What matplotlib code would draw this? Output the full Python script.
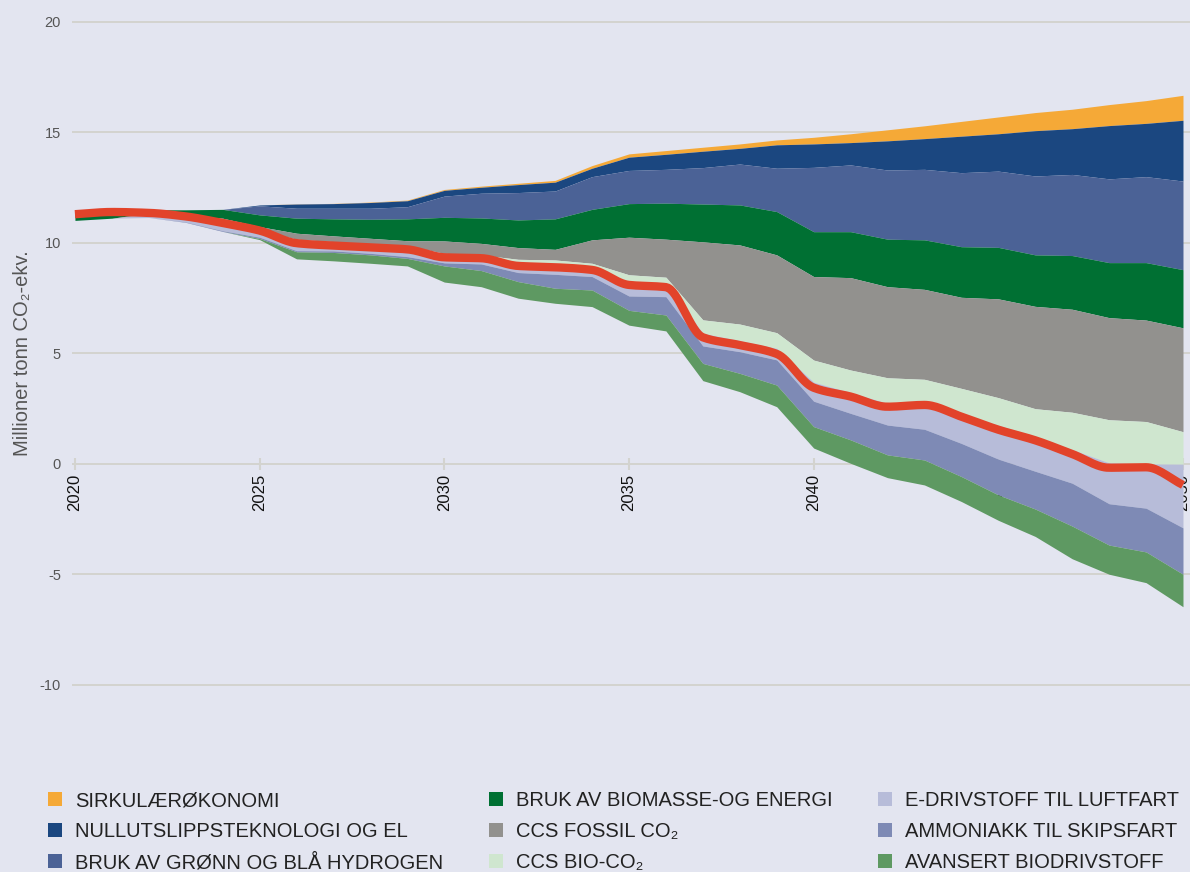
import numpy as np
import matplotlib
matplotlib.use("Agg")
import matplotlib.pyplot as plt
from matplotlib.patches import Patch

plt.rcParams['font.family'] = ['Liberation Sans', 'DejaVu Sans']
plt.rcParams['axes.unicode_minus'] = False

aar = list(range(2020, 2051))

# øvre kant av hvert felt (kumulativt, nedenfra og opp), mill. tonn CO2-ekv.
bunn = [11.02, 11.12, 11.15, 10.93, 10.52, 10.15, 9.28, 9.19, 9.08, 8.96, 8.23, 8.02, 7.50, 7.27, 7.12, 6.28,
        6.02, 3.77, 3.27, 2.59, 0.72, 0.03, -0.62, -0.95, -1.70, -2.55, -3.28, -4.29, -4.99, -5.37, -6.46]
avansert_bio = [11.02, 11.12, 11.15, 10.93, 10.52, 10.20, 9.60, 9.57, 9.46, 9.30, 8.96, 8.75, 8.25, 7.95, 7.87, 6.95,
                6.74, 4.55, 4.10, 3.57, 1.69, 1.09, 0.41, 0.18, -0.57, -1.40, -2.04, -2.81, -3.67, -3.98, -4.99]
ammoniakk = [11.02, 11.12, 11.15, 10.95, 10.55, 10.26, 9.65, 9.64, 9.53, 9.38, 9.10, 9.05, 8.66, 8.58, 8.48, 7.60,
             7.57, 5.34, 5.08, 4.71, 2.84, 2.29, 1.76, 1.57, 0.93, 0.22, -0.33, -0.87, -1.80, -2.00, -2.89]
e_drivstoff = [11.02, 11.12, 11.30, 11.20, 10.95, 10.60, 10.17, 10.06, 9.95, 9.88, 9.53, 9.46, 9.10, 9.05, 8.95, 8.20,
               8.20, 5.91, 5.58, 5.23, 3.70, 3.23, 2.74, 2.77, 2.29, 1.75, 1.25, 0.65, 0.05, 0.00, -0.01]
ccs_bio = [11.02, 11.12, 11.30, 11.20, 10.95, 10.60, 10.17, 10.06, 9.95, 9.88, 9.53, 9.46, 9.26, 9.23, 9.08, 8.56,
           8.45, 6.52, 6.33, 5.94, 4.70, 4.25, 3.90, 3.83, 3.42, 3.00, 2.50, 2.34, 2.00, 1.92, 1.46]
ccs_fossil = [11.02, 11.12, 11.35, 11.25, 11.12, 10.74, 10.44, 10.32, 10.21, 10.10, 10.09, 9.98, 9.79, 9.71, 10.14, 10.26,
              10.17, 10.05, 9.91, 9.46, 8.48, 8.43, 8.02, 7.90, 7.54, 7.47, 7.13, 7.00, 6.62, 6.51, 6.16]
biomasse = [11.42, 11.48, 11.50, 11.50, 11.52, 11.27, 11.12, 11.09, 11.07, 11.09, 11.16, 11.13, 11.04, 11.09, 11.52, 11.78,
            11.80, 11.76, 11.72, 11.42, 10.51, 10.51, 10.17, 10.14, 9.83, 9.80, 9.46, 9.43, 9.11, 9.11, 8.79]
hydrogen = [11.42, 11.48, 11.50, 11.50, 11.52, 11.68, 11.57, 11.57, 11.57, 11.64, 12.12, 12.25, 12.28, 12.35, 13.00, 13.28,
            13.33, 13.41, 13.57, 13.38, 13.42, 13.53, 13.30, 13.33, 13.18, 13.25, 13.03, 13.10, 12.90, 13.00, 12.80]
nullutslipp = [11.42, 11.48, 11.50, 11.50, 11.52, 11.72, 11.76, 11.78, 11.83, 11.91, 12.38, 12.52, 12.64, 12.75, 13.38, 13.88,
               14.01, 14.15, 14.28, 14.44, 14.48, 14.54, 14.62, 14.72, 14.83, 14.94, 15.08, 15.17, 15.31, 15.41, 15.55]
sirkular = [11.42, 11.48, 11.50, 11.50, 11.52, 11.72, 11.77, 11.79, 11.85, 11.94, 12.42, 12.57, 12.70, 12.83, 13.50, 14.03,
            14.18, 14.33, 14.48, 14.66, 14.78, 14.94, 15.12, 15.30, 15.50, 15.70, 15.90, 16.05, 16.26, 16.44, 16.68]
netto = [11.30, 11.40, 11.36, 11.20, 10.90, 10.56, 9.99, 9.88, 9.80, 9.71, 9.35, 9.31, 8.96, 8.90, 8.78, 8.10,
         8.00, 5.73, 5.38, 4.98, 3.45, 3.05, 2.59, 2.67, 2.14, 1.55, 1.07, 0.45, -0.17, -0.15, -0.95]

BG = '#e3e5f0'
GRID = '#d3d3cf'


def monotone(x, y, n=16):
    # monoton kubisk kurve gjennom punktene (bare for tegning av linjen)
    x = np.asarray(x, float)
    y = np.asarray(y, float)
    h = np.diff(x)
    d = np.diff(y) / h
    m = np.zeros_like(y)
    m[0], m[-1] = d[0], d[-1]
    for i in range(1, len(y) - 1):
        if d[i - 1] * d[i] > 0:
            m[i] = 2 / (1 / d[i - 1] + 1 / d[i])
    xs, ys = [], []
    t = np.linspace(0, 1, n, endpoint=False)
    for i in range(len(h)):
        h00 = 2 * t**3 - 3 * t**2 + 1
        h10 = t**3 - 2 * t**2 + t
        h01 = -2 * t**3 + 3 * t**2
        h11 = t**3 - t**2
        xs.append(x[i] + t * h[i])
        ys.append(h00 * y[i] + h10 * h[i] * m[i] + h01 * y[i + 1] + h11 * h[i] * m[i + 1])
    xs.append([x[-1]])
    ys.append([y[-1]])
    return np.concatenate(xs), np.concatenate(ys)


# (nedre kant, øvre kant, farge, navn) i legend-rekkefølge
felt = [
    (nullutslipp, sirkular, '#f5a937', 'SIRKULÆRØKONOMI'),
    (hydrogen, nullutslipp, '#1b4780', 'NULLUTSLIPPSTEKNOLOGI OG EL'),
    (biomasse, hydrogen, '#4b6296', 'BRUK AV GRØNN OG BLÅ HYDROGEN'),
    (ccs_fossil, biomasse, '#007033', 'BRUK AV BIOMASSE-OG ENERGI'),
    (ccs_bio, ccs_fossil, '#92918e', 'CCS FOSSIL CO₂'),
    (e_drivstoff, ccs_bio, '#cfe6cf', 'CCS BIO-CO₂'),
    (ammoniakk, e_drivstoff, '#b7bcd9', 'E-DRIVSTOFF TIL LUFTFART'),
    (avansert_bio, ammoniakk, '#7e8ab5', 'AMMONIAKK TIL SKIPSFART'),
    (bunn, avansert_bio, '#5e9962', 'AVANSERT BIODRIVSTOFF'),
]

fig = plt.figure(figsize=(11.9, 8.72), dpi=100, facecolor=BG)
ax = fig.add_axes([72 / 1190, 132 / 872, 1118 / 1190, 730 / 872])
ax.set_facecolor(BG)

for lo, hi, col, navn in felt:
    ax.fill_between(aar, lo, hi, color=col, lw=0, zorder=2)

xs, ys = monotone(aar, netto)
ax.plot(xs, ys, color='#e2432a', lw=6, solid_capstyle='butt', zorder=5)

ax.set_xlim(2019.92, 2050.19)
ax.set_ylim(-12.49, 20.54)
ax.set_yticks([20, 15, 10, 5, 0, -5, -10])
ax.set_xticks(range(2020, 2051, 5))
ax.grid(axis='y', color=GRID, lw=1.4)
ax.set_axisbelow(True)
for s in ax.spines.values():
    s.set_visible(False)
ax.spines['bottom'].set_position(('data', 0))
ax.tick_params(axis='y', length=0, pad=8, labelsize=10.5, labelcolor='#555555')
ax.tick_params(axis='x', direction='inout', length=8, width=1.5, color=GRID,
               pad=3, labelsize=12, labelcolor='#111111', labelrotation=90)

ax.set_ylabel('Millioner tonn CO₂-ekv.', fontsize=14.5, color='#555555')
ax.yaxis.set_label_coords(-0.036, 0.53)

handles = [Patch(facecolor=c, edgecolor='none') for _, _, c, _ in felt]
labels = [n for _, _, _, n in felt]
fig.legend(handles, labels, ncol=3, loc='upper left', bbox_to_anchor=(48 / 1190, 1 - 791 / 872),
           frameon=False, borderaxespad=0, borderpad=0, prop={'size': 14.5},
           handlelength=0.7, handleheight=0.7, handletextpad=0.65, columnspacing=2.25,
           labelspacing=0.6, labelcolor='#222222')

fig.savefig('out.png', dpi=100, facecolor=BG)
